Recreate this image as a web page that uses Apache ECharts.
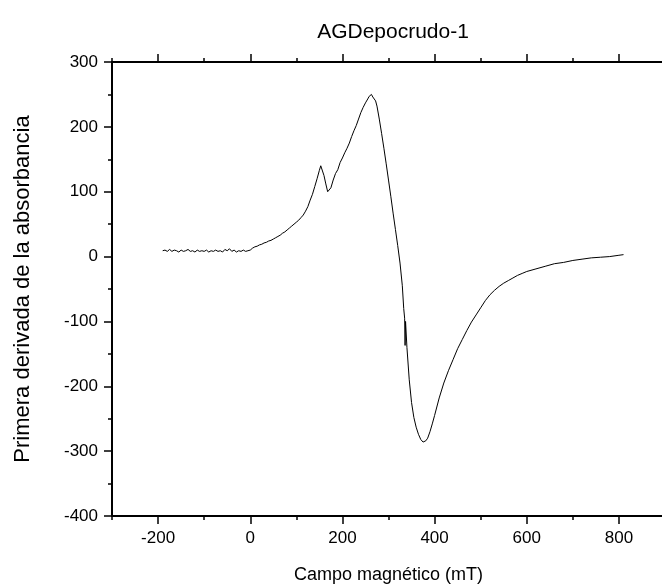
<!DOCTYPE html>
<html>
<head>
<meta charset="utf-8">
<script src="https://cdn.jsdelivr.net/npm/echarts@6/dist/echarts.min.js"></script>
<style>html,body{margin:0;padding:0;background:#fff}#c{width:662px;height:588px}</style>
</head>
<body>
<div id="c"></div>
<script>
var titleText = 'AGDepocrudo-1';
var xName = 'Campo magnético (mT)';
var yName = 'Primera derivada de la absorbancia';
var xMajorTicks = [-200, 0, 200, 400, 600, 800];

var fieldMT = [-190,-185,-180,-175,-170,-165,-160,-155,-150,-145,-140,-135,-130,-125,-120,-115,-110,-105,-100,-95,-90,-85,-80,-75,-70,-65,-60,-55,-50,-45,-40,-35,-30,-25,-20,-15,-10,-5,0,5,10,15,20,25,30,35,40,45,50,55,60,65,70,75,80,85,90,95,100,105,110,115,120,125,130,135,140,145,150,153,156,160,164,168,171,175,180,185,190,195,200,205,210,215,220,225,230,235,240,245,250,255,258,261,263,266,269,272,275,280,285,290,295,300,305,310,315,320,325,330,333,335,336,337,340,345,350,355,360,365,370,375,378,381,385,390,395,400,410,420,430,440,450,460,470,480,490,500,510,520,530,540,550,560,570,580,590,600,620,640,660,680,700,720,740,760,780,800,810];
var derivative = [9,10,8,11,8,10,9,7,10,8,9,11,8,9,7,10,8,9,8,10,7,9,8,10,8,9,7,11,9,12,8,10,7,9,8,10,8,9,10,13,15,16,18,19,21,22,24,25,27,29,31,33,36,38,41,44,47,50,53,56,60,64,70,77,87,96,108,120,133,140,138,125,112,100,98,106,118,128,134,145,152,160,167,175,185,194,202,212,222,230,237,243,247,244,250,246,248,240,232,212,190,167,143,118,93,67,42,17,-10,-45,-80,-95,-137,-100,-140,-190,-225,-248,-263,-274,-282,-286,-289,-284,-280,-270,-258,-245,-218,-195,-176,-159,-142,-128,-114,-101,-90,-79,-68,-59,-52,-46,-41,-37,-33,-29,-26,-23,-19,-15,-11,-9,-6,-4,-2,-1,0,2,3];

var seriesData = fieldMT.map(function (x, i) { return [x, derivative[i]]; });

var FONT = '"Liberation Sans", Arial, sans-serif';
var chart = echarts.init(document.getElementById('c'), null, {renderer: 'canvas'});
var lineStyle = {color: '#000', width: 2};
var tickStyle = {color: '#000', width: 1.5};

chart.setOption({
  animation: false,
  backgroundColor: '#fff',
  title: {
    text: titleText, left: 388, top: 17, textAlign: 'center',
    textStyle: {fontFamily: FONT, fontSize: 21, fontWeight: 'normal', color: '#000'}
  },
  grid: {left: 112, right: -3, top: 62, bottom: 72, containLabel: false, outerBoundsMode: 'none'},
  xAxis: [
    {type: 'value', position: 'bottom', min: -300, max: 900, interval: 100,
     axisLine: {show: true, onZero: false, lineStyle: lineStyle}, axisTick: {show: true, length: 4, lineStyle: tickStyle},
     axisLabel: {show: false}, splitLine: {show: false}},
    {type: 'value', position: 'bottom', min: -300, max: 900,
     axisLine: {show: false, onZero: false}, axisTick: {show: true, length: 8, customValues: xMajorTicks, lineStyle: tickStyle},
     axisLabel: {show: true, customValues: xMajorTicks, fontFamily: FONT, fontSize: 17, color: '#000', margin: 14},
     splitLine: {show: false},
     name: xName, nameLocation: 'middle', nameGap: 50,
     nameTextStyle: {fontFamily: FONT, fontSize: 18, color: '#000'}},
    {type: 'value', position: 'top', min: -300, max: 900, interval: 100,
     axisLine: {show: true, onZero: false, lineStyle: lineStyle}, axisTick: {show: true, length: 4, lineStyle: tickStyle},
     axisLabel: {show: false}, splitLine: {show: false}},
    {type: 'value', position: 'top', min: -300, max: 900,
     axisLine: {show: false, onZero: false}, axisTick: {show: true, length: 8, customValues: xMajorTicks, lineStyle: tickStyle},
     axisLabel: {show: false}, splitLine: {show: false}}
  ],
  yAxis: [
    {type: 'value', position: 'left', min: -400, max: 300, interval: 100,
     axisLine: {show: true, onZero: false, lineStyle: lineStyle},
     axisTick: {show: true, length: 8, lineStyle: tickStyle},
     minorTick: {show: true, splitNumber: 2, length: 4, lineStyle: tickStyle},
     axisLabel: {fontFamily: FONT, fontSize: 17, color: '#000', margin: 14},
     splitLine: {show: false}, minorSplitLine: {show: false},
     name: yName, nameLocation: 'middle', nameGap: 78,
     nameTextStyle: {fontFamily: FONT, fontSize: 22, color: '#000'}},
    {type: 'value', position: 'right', min: -400, max: 300, interval: 100,
     axisLine: {show: true, onZero: false, lineStyle: lineStyle}, axisTick: {show: false},
     axisLabel: {show: false}, splitLine: {show: false}}
  ],
  series: [{
    type: 'line', xAxisIndex: 0, yAxisIndex: 0, data: seriesData,
    showSymbol: false, symbol: 'none', smooth: false,
    lineStyle: {color: '#000', width: 1}
  }]
});
</script>
</body>
</html>
